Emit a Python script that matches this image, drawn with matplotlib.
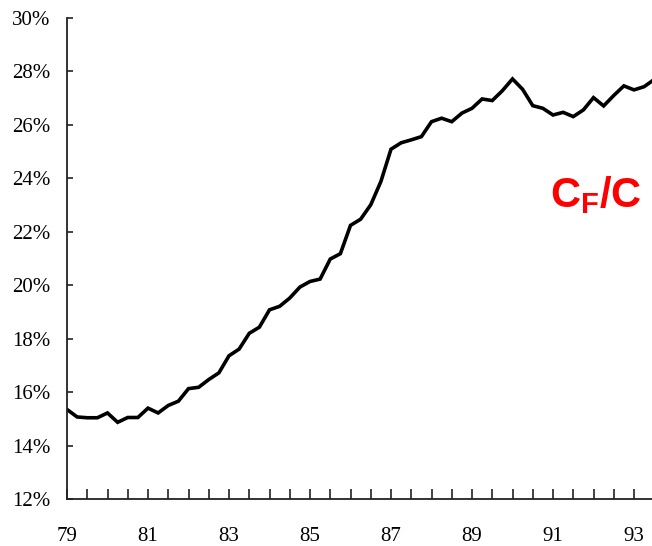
import matplotlib
matplotlib.use("Agg")
import matplotlib.pyplot as plt
import numpy as np

start_year = 1979
cf_share = [15.35, 15.07, 15.04, 15.04, 15.22, 14.87, 15.05, 15.05,
            15.40, 15.22, 15.50, 15.66, 16.13, 16.18, 16.47, 16.72,
            17.36, 17.61, 18.20, 18.43, 19.08, 19.21, 19.52, 19.93,
            20.14, 20.23, 20.98, 21.18, 22.24, 22.47, 23.01, 23.88,
            25.09, 25.33, 25.44, 25.56, 26.12, 26.25, 26.12, 26.44,
            26.62, 26.97, 26.91, 27.28, 27.72, 27.33, 26.72, 26.62,
            26.37, 26.47, 26.31, 26.56, 27.02, 26.71, 27.10, 27.46,
            27.31, 27.43, 27.70]
x_labels = ["79", "81", "83", "85", "87", "89", "91", "93"]
y_ticks = [12, 14, 16, 18, 20, 22, 24, 26, 28, 30]

years = np.array([79 + i / 4 for i in range(len(cf_share))])

plt.rcParams["mathtext.fontset"] = "custom"
plt.rcParams["mathtext.rm"] = "Liberation Sans"
plt.rcParams["mathtext.bf"] = "Liberation Sans:bold"

fig = plt.figure(figsize=(6.52, 5.46), dpi=100)
ax = fig.add_axes([67 / 652, 1 - 499 / 546, 1 - 67 / 652, (499 - 18) / 546])

ax.plot(years, cf_share, color="black", lw=2.6, solid_joinstyle="miter", clip_on=True)

ax.set_xlim(79, 79 + (652 - 67) / 40.5)
ax.set_ylim(12, 30)

for s in ["top", "right"]:
    ax.spines[s].set_visible(False)
for s in ["left", "bottom"]:
    ax.spines[s].set_linewidth(1.3)
    ax.spines[s].set_color("#222222")

serif = "Liberation Serif"
ax.set_yticks(y_ticks)
ax.set_yticklabels([f"{v}%" for v in y_ticks], fontfamily=serif, fontsize=15)
ax.tick_params(axis="y", direction="in", length=4, width=1.2, pad=12, color="#222222")

major_x = [79 + 2 * k for k in range(len(x_labels))]
ax.set_xticks(major_x)
ax.set_xticklabels(x_labels, fontfamily=serif, fontsize=15)
ax.set_xticks(np.arange(79.5, 93.5, 0.5), minor=True)
ax.tick_params(axis="x", which="both", direction="in", length=7, width=1.2, pad=20, color="#222222")

fig.text(550 / 652, 1 - 207 / 546, r"$\mathbf{C_F/C}$", color="#ff0000",
         fontsize=30, ha="left", va="baseline")

fig.savefig("out.png", dpi=100)
